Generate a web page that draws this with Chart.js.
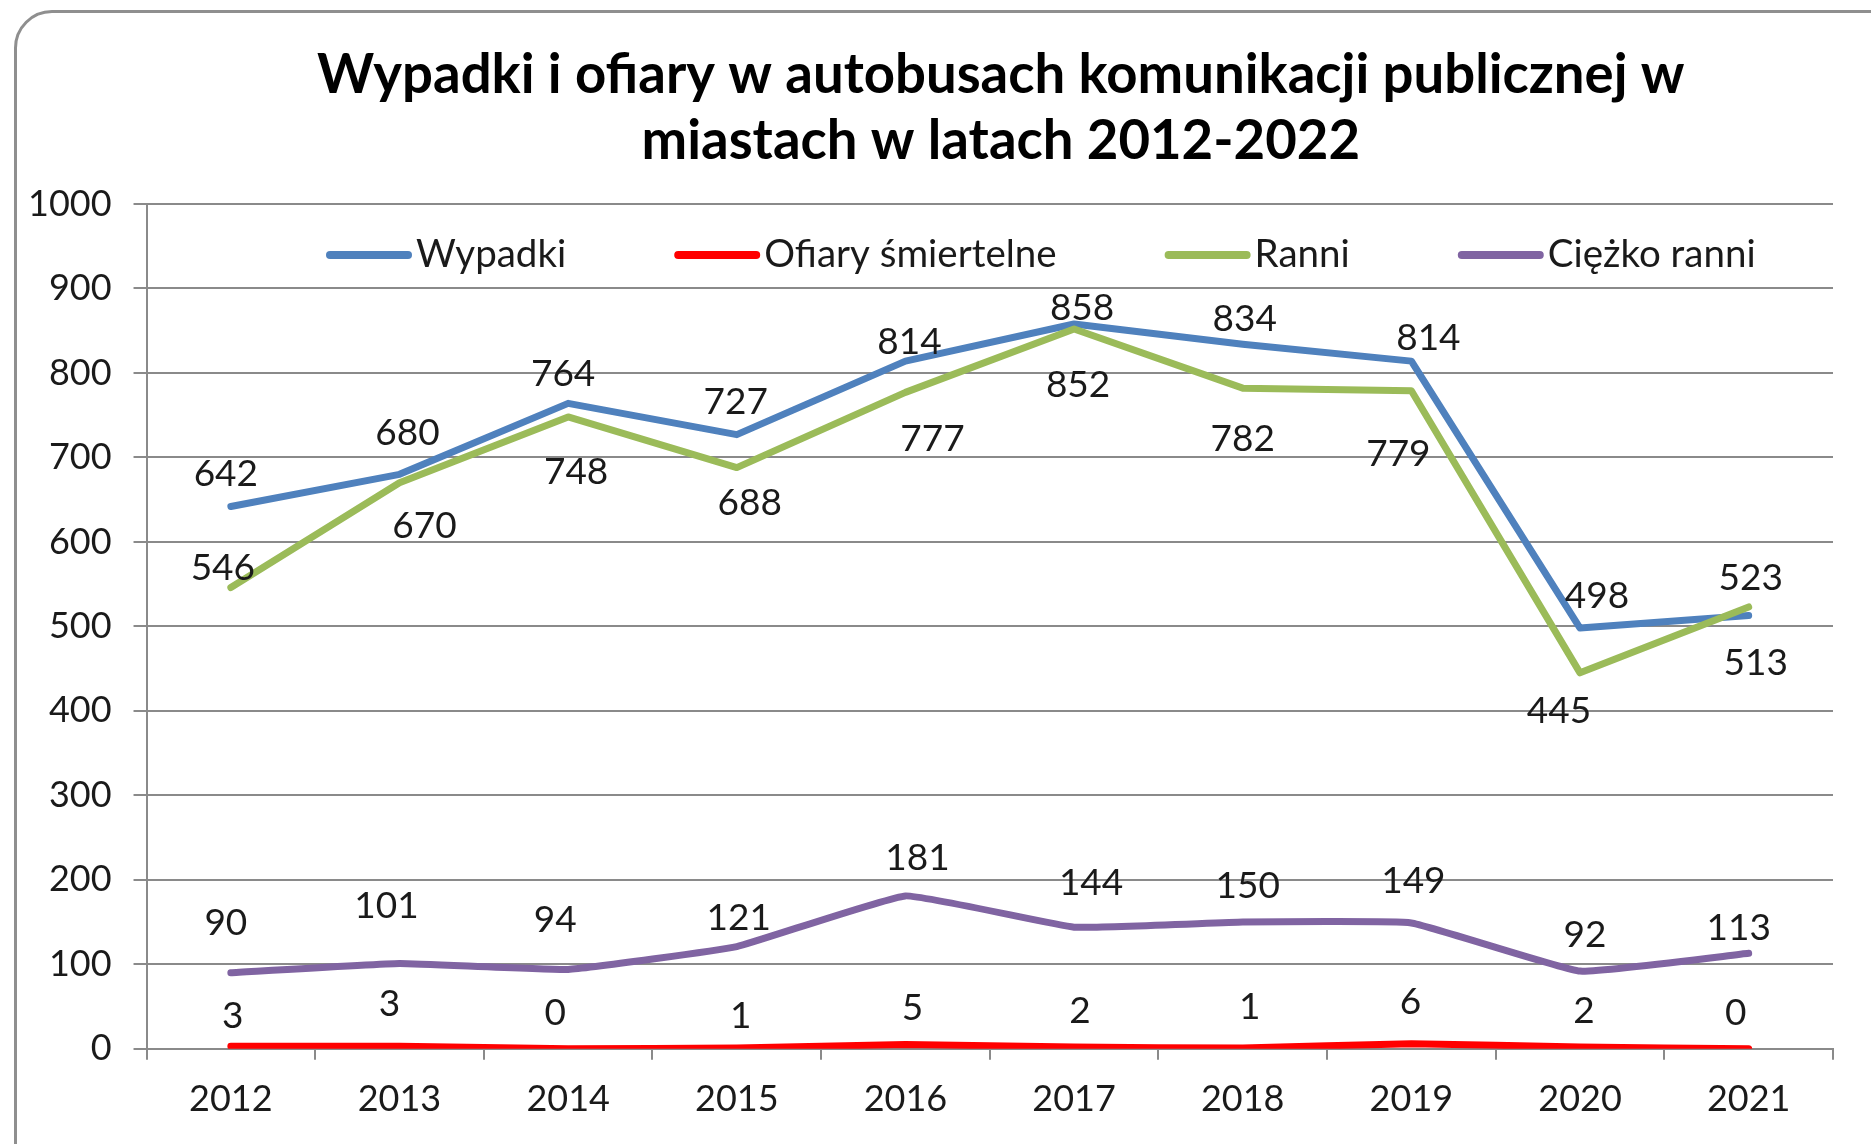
<!DOCTYPE html>
<html lang="pl">
<head>
<meta charset="utf-8">
<title>Wypadki i ofiary w autobusach komunikacji publicznej</title>
<script src="https://cdn.jsdelivr.net/npm/chart.js@4.4.1/dist/chart.umd.min.js"></script>
<style>
    html, body { margin: 0; padding: 0; background: #fff; overflow: hidden; }
    #frame {
        position: absolute; left: 14px; top: 10px;
        width: 1900px; height: 1180px;
        border: 3px solid #8f8f8f; border-radius: 38px;
        box-sizing: border-box;
    }
    #chartCanvas { position: absolute; left: 0; top: 0; }
</style>
</head>
<body>
<div id="frame"></div>
<canvas id="chartCanvas" width="1871" height="1144"></canvas>
<script>
// lata na osi X
const years = ['2012', '2013', '2014', '2015', '2016', '2017', '2018', '2019', '2020', '2021'];

// serie danych
const wypadki = [642, 680, 764, 727, 814, 858, 834, 814, 498, 513];
const ofiarySmiertelne = [3, 3, 0, 1, 5, 2, 1, 6, 2, 0];
const ranni = [546, 670, 748, 688, 777, 852, 782, 779, 445, 523];
const ciezkoRanni = [90, 101, 94, 121, 181, 144, 150, 149, 92, 113];

// tytuł (dwie linie)
const titleLines = ['Wypadki i ofiary w autobusach komunikacji publicznej w', 'miastach w latach 2012-2022'];

// przesunięcia etykiet danych (dx, dy w pikselach) – tak jak w oryginale
const wypadkiShift = [[-5,-32],[8,-41],[-5,-29],[-1,-33],[4,-19],[8,-16],[2,-25],[17,-23],[17,-32],[7,48]];
const ofiaryShift = [[2,-30],[-10,-42],[-13,-36],[4,-32],[7,-37],[6,-36],[7,-41],[-1,-42],[4,-36],[-13,-36]];
const ranniShift = [[-8,-19],[25,43],[8,55],[13,35],[27,47],[4,56],[0,51],[-13,63],[-21,38],[2,-29]];
const ciezkoShift = [[-5,-50],[-13,-57],[-13,-49],[2,-29],[12,-38],[17,-44],[5,-36],[2,-42],[5,-36],[-10,-25]];

const FONT = 'Lato, "Open Sans", sans-serif';
const GRID = '#8a8a8a';

/**
 * Tytuł wyśrodkowany nad obszarem wykresu (jak w Excelu)
 */
const chartTitle = {
    id: 'chartTitle',
    afterDraw(chart) {
        const ctx = chart.ctx;
        const cx = (chart.chartArea.left + chart.chartArea.right) / 2 + 11;
        ctx.save();
        ctx.font = 'bold 54.5px ' + FONT;
        ctx.fillStyle = '#000';
        ctx.textAlign = 'center';
        ctx.textBaseline = 'middle';
        titleLines.forEach((line, i) => {
            ctx.fillText(line, cx, 75 + i * 66.5);
        });
        ctx.restore();
    }
};

/**
 * Etykiety wartości przy punktach
 */
const valueLabels = {
    id: 'valueLabels',
    afterDatasetsDraw(chart) {
        const ctx = chart.ctx;
        ctx.save();
        ctx.font = '37px ' + FONT;
        ctx.fillStyle = '#1a1a1a';
        ctx.textAlign = 'center';
        ctx.textBaseline = 'middle';
        chart.data.datasets.forEach((ds, i) => {
            const meta = chart.getDatasetMeta(i);
            meta.data.forEach((pt, j) => {
                const s = ds.labelShift[j];
                ctx.fillText(String(ds.data[j]), pt.x + s[0], pt.y + s[1]);
            });
        });
        ctx.restore();
    }
};

/**
 * Legenda rysowana wewnątrz obszaru wykresu
 */
const innerLegend = {
    id: 'innerLegend',
    afterDraw(chart) {
        const ctx = chart.ctx;
        ctx.save();
        ctx.font = '38.5px ' + FONT;
        ctx.textBaseline = 'middle';
        ctx.textAlign = 'left';
        let x = 326;
        const y = 255;
        chart.data.datasets.forEach(ds => {
            ctx.strokeStyle = ds.borderColor;
            ctx.lineWidth = 8;
            ctx.lineCap = 'round';
            ctx.beginPath();
            ctx.moveTo(x + 4, y);
            ctx.lineTo(x + 82, y);
            ctx.stroke();
            ctx.fillStyle = '#1a1a1a';
            ctx.fillText(ds.label, x + 90, y);
            x += 90 + ctx.measureText(ds.label).width + 108;
        });
        ctx.restore();
    }
};

const ctx = document.getElementById('chartCanvas').getContext('2d');
new Chart(ctx, {
    type: 'line',
    data: {
        labels: years,
        datasets: [
            { label: 'Wypadki', data: wypadki, borderColor: '#4f81bd', labelShift: wypadkiShift, order: 3, tension: 0 },
            { label: 'Ofiary śmiertelne', data: ofiarySmiertelne, borderColor: '#ff0000', labelShift: ofiaryShift, order: 2, tension: 0.1 },
            { label: 'Ranni', data: ranni, borderColor: '#9bbb59', labelShift: ranniShift, order: 1, tension: 0 },
            { label: 'Ciężko ranni', data: ciezkoRanni, borderColor: '#8064a2', labelShift: ciezkoShift, order: 0, tension: 0.1 }
        ].map(ds => Object.assign(ds, {
            borderWidth: 7,
            pointRadius: 0,
            fill: false,
            borderCapStyle: 'round',
            borderJoinStyle: 'round'
        }))
    },
    options: {
        responsive: false,
        animation: false,
        devicePixelRatio: 1,
        layout: { padding: { left: 6, right: 38, top: 204, bottom: 5 } },
        plugins: {
            legend: { display: false },
            tooltip: { enabled: false },
            title: { display: false }
        },
        scales: {
            x: {
                offset: true,
                grid: { offset: true, drawOnChartArea: false, drawTicks: true, tickLength: 11, color: GRID, lineWidth: 2 },
                border: { color: GRID, width: 2 },
                ticks: { color: '#1a1a1a', font: { family: FONT, size: 36 }, padding: 18, maxRotation: 0 }
            },
            y: {
                min: 0,
                max: 1000,
                grid: { color: GRID, lineWidth: 2, tickLength: 13 },
                border: { color: GRID, width: 2 },
                ticks: {
                    stepSize: 100, color: '#1a1a1a', font: { family: FONT, size: 36 }, padding: 22,
                    callback: v => String(v)
                }
            }
        }
    },
    plugins: [chartTitle, valueLabels, innerLegend]
});
</script>
</body>
</html>
